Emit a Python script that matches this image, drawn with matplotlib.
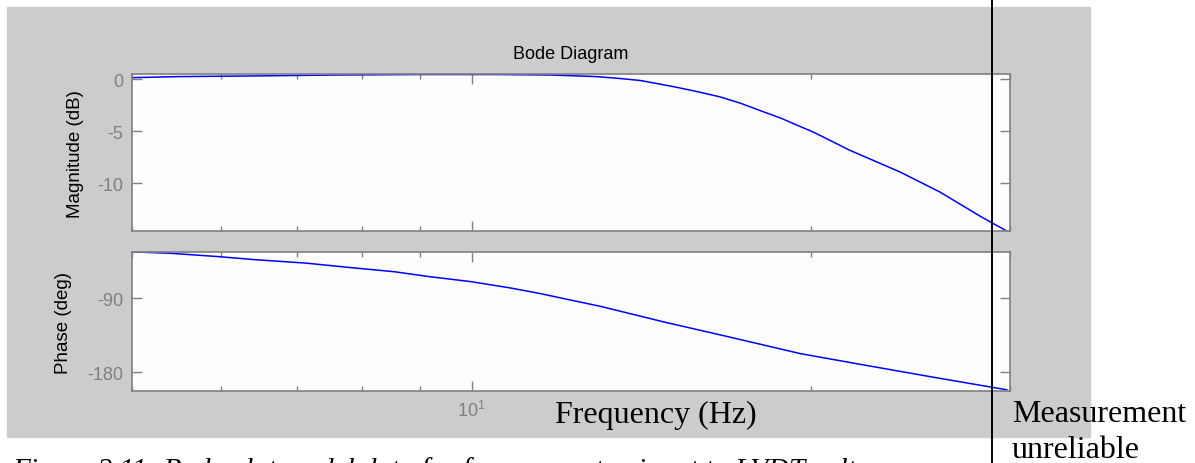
import matplotlib
matplotlib.use("Agg")
import matplotlib.pyplot as plt
from matplotlib.patches import Rectangle
from matplotlib.lines import Line2D
from matplotlib.ticker import NullFormatter

plt.rcParams["axes.unicode_minus"] = False

# values
mag_freq = [5.0, 5.5, 6.5, 7.5, 9.0, 10.5, 11.8, 12.9, 13.5, 14.1, 14.6, 15.2,
            15.9, 16.6, 17.3, 18.0, 18.8, 19.5, 20.0, 20.4, 21.6, 24.0, 26.0,
            28.2, 29.9]
mag_db = [0.15, 0.25, 0.32, 0.40, 0.45, 0.45, 0.40, 0.25, 0.08, -0.12, -0.42,
          -0.78, -1.23, -1.70, -2.30, -3.00, -3.75, -4.50, -5.00, -5.45, -6.80,
          -8.95, -10.85, -13.15, -14.69]

ph_freq = [5.0, 5.4, 5.95, 6.45, 7.13, 7.75, 8.54, 9.18, 9.98, 10.8, 11.5,
           12.1, 13.0, 14.8, 17.0, 19.55, 22.4, 25.6, 29.8]
ph_deg = [-33.8, -35.5, -39.5, -43.5, -47.5, -52.5, -58.0, -64.0, -70.0,
          -77.5, -84.5, -91.0, -100.0, -119.0, -138.0, -157.5, -172.0,
          -186.0, -201.5]

mag_ticks = [-10, -5, 0]
ph_ticks = [-180, -90]

W, H = 1195, 464
gray = "#808080"
sans = "Liberation Sans"
serif = "Liberation Serif"

fig = plt.figure(figsize=(W / 100, H / 100), dpi=100)

# gray figure background of the MATLAB window
fig.add_artist(Rectangle((7 / W, 1 - 438 / H), 1083 / W, 430 / H,
                         transform=fig.transFigure, color="#cccccc",
                         zorder=-1))

ax1 = fig.add_axes([132 / W, 1 - 232 / H, 878 / W, 157 / H])
ax2 = fig.add_axes([132 / W, 1 - 392 / H, 878 / W, 139 / H])

ax1.plot(mag_freq, mag_db, color="#0000ff", lw=1.1)
ax2.plot(ph_freq, ph_deg, color="#0000ff", lw=1.1)

ax1.set_ylim(-14.6, 0.5)
ax2.set_ylim(-203, -34)
ax1.set_yticks(mag_ticks)
ax2.set_yticks(ph_ticks)

for ax in (ax1, ax2):
    ax.set_xscale("log")
    ax.set_xlim(5, 30)
    ax.set_facecolor("#fdfdfd")
    ax.set_xticks([10])
    ax.xaxis.set_minor_formatter(NullFormatter())
    for s in ax.spines.values():
        s.set_color(gray)
        s.set_linewidth(1.2)
    ax.tick_params(which="both", direction="in", top=True, right=True,
                   color=gray, labelcolor=gray, labelsize=13, width=1.0)
    ax.tick_params(which="major", length=7, pad=6.5)
    ax.tick_params(which="minor", length=3.5)
    for lab in ax.get_yticklabels():
        lab.set_fontfamily(sans)

ax1.set_xticklabels([])
ax2.set_xticklabels([r"$\mathregular{10^{1}}$"], fontfamily=sans)

fig.text(571 / W, 1 - 59 / H, "Bode Diagram", ha="center", va="baseline",
         fontsize=13, family=sans)
fig.text(76 / W, 1 - 154 / H, "Magnitude (dB)", rotation=90, ha="center",
         va="center", fontsize=13.5, family=sans)
fig.text(64 / W, 1 - 323 / H, "Phase (deg)", rotation=90, ha="center",
         va="center", fontsize=13.5, family=sans)

fig.text(656 / W, 1 - 423 / H, "Frequency (Hz)", ha="center", va="baseline",
         fontsize=23, family=serif)

# annotation added on top of the figure
fig.add_artist(Line2D([992 / W, 992 / W], [0, 1], transform=fig.transFigure,
                      color="black", lw=1.4, zorder=5))
fig.text(1012 / W, 1 - 422 / H, "Measurement", ha="left", va="baseline",
         fontsize=23, family=serif)
fig.text(1012 / W, 1 - 458 / H, "unreliable", ha="left", va="baseline",
         fontsize=23, family=serif)

# caption, cut by the bottom edge as in the source
fig.text(12 / W, 1 - 478 / H,
         "Figure 2.11: Bode plot model data for frequency step input to LVDT voltage",
         ha="left", va="baseline", fontsize=21, family=serif, style="italic")

fig.savefig("out.png", dpi=100)
